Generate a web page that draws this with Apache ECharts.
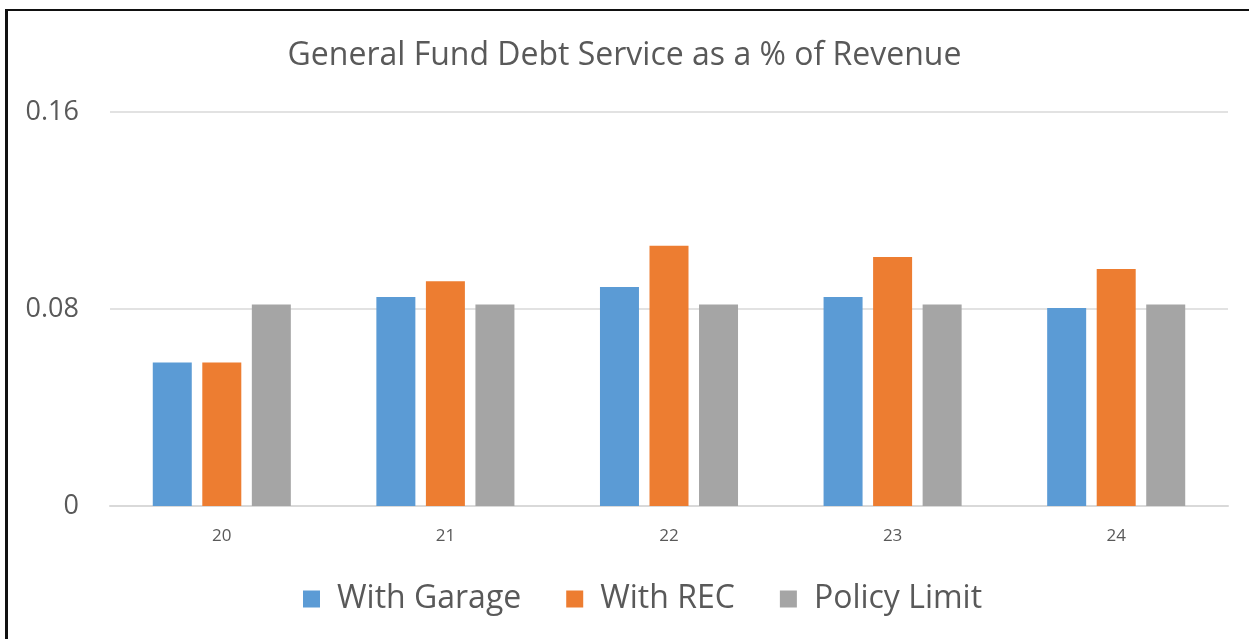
<!DOCTYPE html>
<html>
<head>
<meta charset="utf-8">
<script src="https://cdn.jsdelivr.net/npm/echarts@6/dist/echarts.min.js"></script>
<style>
  html, body { margin: 0; padding: 0; background: #fff; }
  #chart { position: absolute; left: 0; top: 0; width: 1249px; height: 639px; }
  #frame { position: absolute; left: 5px; top: 9px; right: 0; bottom: 0;
           border-top: 2px solid #111; border-left: 3px solid #111; pointer-events: none; }
</style>
</head>
<body>
<div id="chart"></div>
<div id="frame"></div>
<script>
// chart data
const categories = ['20', '21', '22', '23', '24'];
const withGarage = [0.0583, 0.0849, 0.0889, 0.0849, 0.0804];
const withRec = [0.0583, 0.0913, 0.1057, 0.1011, 0.0962];
const policyLimit = [0.0818, 0.0818, 0.0818, 0.0818, 0.0818];
const seriesNames = ['With Garage', 'With REC', 'Policy Limit'];

const textColor = '#595959';
const fontFamily = '"Open Sans", "Noto Sans", sans-serif';

let myChart = echarts.init(document.getElementById('chart'));

const barStyle = function (name, data, color) {
    return {
        name: name,
        type: 'bar',
        data: data,
        barWidth: 39,
        barGap: '27%',
        itemStyle: { color: color }
    }
}

myChart.setOption({
    animation: false,
    textStyle: { fontFamily: fontFamily },
    title: {
        text: 'General Fund Debt Service as a % of Revenue',
        left: 'center',
        top: 35,
        textStyle: {
            color: textColor,
            fontSize: 32,
            fontWeight: 'normal',
            fontFamily: fontFamily
        }
    },
    legend: {
        data: seriesNames,
        left: 298,
        top: 578,
        itemWidth: 17,
        itemHeight: 17,
        itemGap: 45,
        icon: 'rect',
        textStyle: {
            color: textColor,
            fontSize: 32,
            fontFamily: fontFamily,
            padding: [0, 0, 0, 12]
        }
    },
    grid: {
        left: 110,
        right: 21,
        top: 112,
        bottom: 133
    },
    xAxis: {
        type: 'category',
        data: categories,
        axisTick: { show: false },
        axisLine: { show: true, lineStyle: { color: '#d9d9d9', width: 2 } },
        axisLabel: {
            color: textColor,
            fontSize: 17,
            margin: 22,
            fontFamily: fontFamily
        }
    },
    yAxis: {
        type: 'value',
        min: 0,
        max: 0.16,
        interval: 0.08,
        axisLine: { show: false },
        axisTick: { show: false },
        splitLine: { lineStyle: { color: '#d9d9d9', width: 1.5 } },
        axisLabel: {
            color: textColor,
            fontSize: 27,
            margin: 31,
            fontFamily: fontFamily
        }
    },
    series: [
        barStyle(seriesNames[0], withGarage, '#5b9bd5'),
        barStyle(seriesNames[1], withRec, '#ed7d31'),
        barStyle(seriesNames[2], policyLimit, '#a5a5a5')
    ]
});
</script>
</body>
</html>
